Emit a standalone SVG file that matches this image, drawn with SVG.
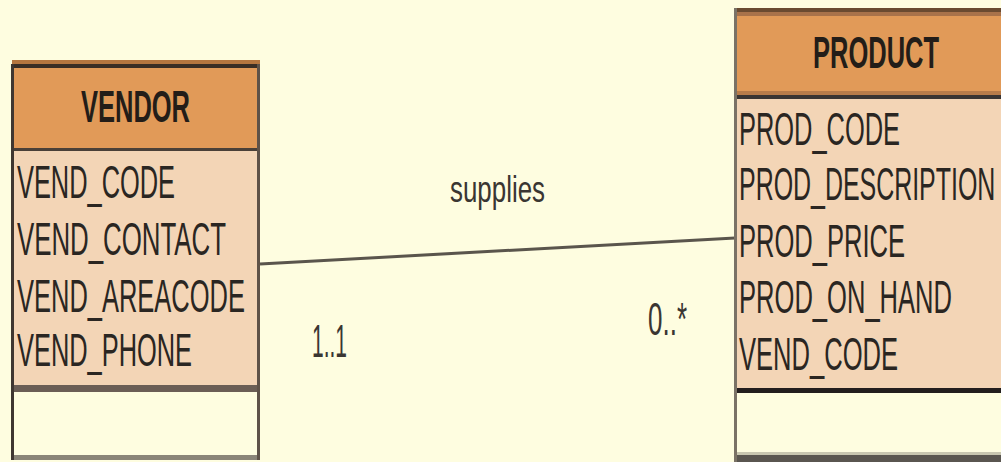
<svg xmlns="http://www.w3.org/2000/svg" width="1001" height="462" viewBox="0 0 1001 462">
<style>
.hdr{fill:#E19A58}
.att{fill:#F3D5B6}
.t{font-family:"Liberation Sans",Arial,sans-serif;font-size:47px;fill:#2a2622}
.b{font-family:"Liberation Sans",Arial,sans-serif;font-size:45px;font-weight:bold;fill:#231d18}
.lbl{font-family:"Liberation Sans",Arial,sans-serif;fill:#3a3632}
</style>
<rect width="1001" height="462" fill="#FEFDE0"/>
<g id="connectors">
<line x1="260" y1="264" x2="735" y2="238" stroke="#5a554c" stroke-width="3"/>
<text class="lbl" transform="translate(450,202) scale(0.55,1)" font-size="36" textLength="172.7" lengthAdjust="spacingAndGlyphs">supplies</text>
<text class="lbl" transform="translate(312,357) scale(0.55,1)" font-size="46" textLength="63.6" lengthAdjust="spacingAndGlyphs">1..1</text>
<text class="lbl" transform="translate(648,335) scale(0.55,1)" font-size="46" textLength="70.9" lengthAdjust="spacingAndGlyphs">0..*</text>
</g>
<g id="vendor">
<rect x="12" y="60" width="248" height="5" fill="#B5763F"/>
<rect class="hdr" x="12" y="65" width="248" height="85"/>
<rect class="att" x="12" y="150" width="248" height="236"/>
<rect x="12" y="64" width="248" height="4" fill="#3a2e25"/>
<rect x="12" y="148" width="248" height="3" fill="#4a4038"/>
<rect x="12" y="385" width="248" height="7" fill="#6b5e55"/>
<rect x="12" y="455" width="248" height="5" fill="#8a8578"/>
<rect x="11" y="64" width="3" height="396" fill="#3f3731"/>
<rect x="257" y="64" width="3" height="396" fill="#5e5248"/>
<text class="b" transform="translate(81,122) scale(0.55,1)" textLength="198.2" lengthAdjust="spacingAndGlyphs">VENDOR</text>
<text class="t" transform="translate(17,198) scale(0.55,1)" textLength="287.3" lengthAdjust="spacingAndGlyphs">VEND_CODE</text>
<text class="t" transform="translate(17,255) scale(0.55,1)" textLength="380" lengthAdjust="spacingAndGlyphs">VEND_CONTACT</text>
<text class="t" transform="translate(17,312) scale(0.55,1)" textLength="414.5" lengthAdjust="spacingAndGlyphs">VEND_AREACODE</text>
<text class="t" transform="translate(17,366) scale(0.55,1)" textLength="318.2" lengthAdjust="spacingAndGlyphs">VEND_PHONE</text>
</g>
<g id="product">
<rect class="hdr" x="734" y="12" width="267" height="83"/>
<rect x="734" y="8" width="267" height="4" fill="#6a4a30"/>
<rect x="734" y="12" width="267" height="4" fill="#A8724A"/>
<rect x="734" y="91" width="267" height="4" fill="#B87C4A"/>
<rect x="734" y="95" width="267" height="4" fill="#3a3533"/>
<rect class="att" x="734" y="99" width="267" height="289"/>
<rect x="734" y="388" width="267" height="5" fill="#231e1e"/>
<rect x="734" y="452" width="267" height="3" fill="#c8c6b0"/>
<rect x="734" y="455" width="267" height="7" fill="#5a5650"/>
<rect x="734" y="8" width="3" height="454" fill="#7a7266"/>
<text class="b" transform="translate(813,68) scale(0.55,1)" textLength="229.1" lengthAdjust="spacingAndGlyphs">PRODUCT</text>
<text class="t" transform="translate(739,145) scale(0.55,1)" textLength="292.7" lengthAdjust="spacingAndGlyphs">PROD_CODE</text>
<text class="t" transform="translate(739,200) scale(0.55,1)" textLength="466" lengthAdjust="spacingAndGlyphs">PROD_DESCRIPTION</text>
<text class="t" transform="translate(739,257) scale(0.55,1)" textLength="301.8" lengthAdjust="spacingAndGlyphs">PROD_PRICE</text>
<text class="t" transform="translate(739,313) scale(0.55,1)" textLength="387.3" lengthAdjust="spacingAndGlyphs">PROD_ON_HAND</text>
<text class="t" transform="translate(739,370) scale(0.55,1)" textLength="289.1" lengthAdjust="spacingAndGlyphs">VEND_CODE</text>
</g>
</svg>
